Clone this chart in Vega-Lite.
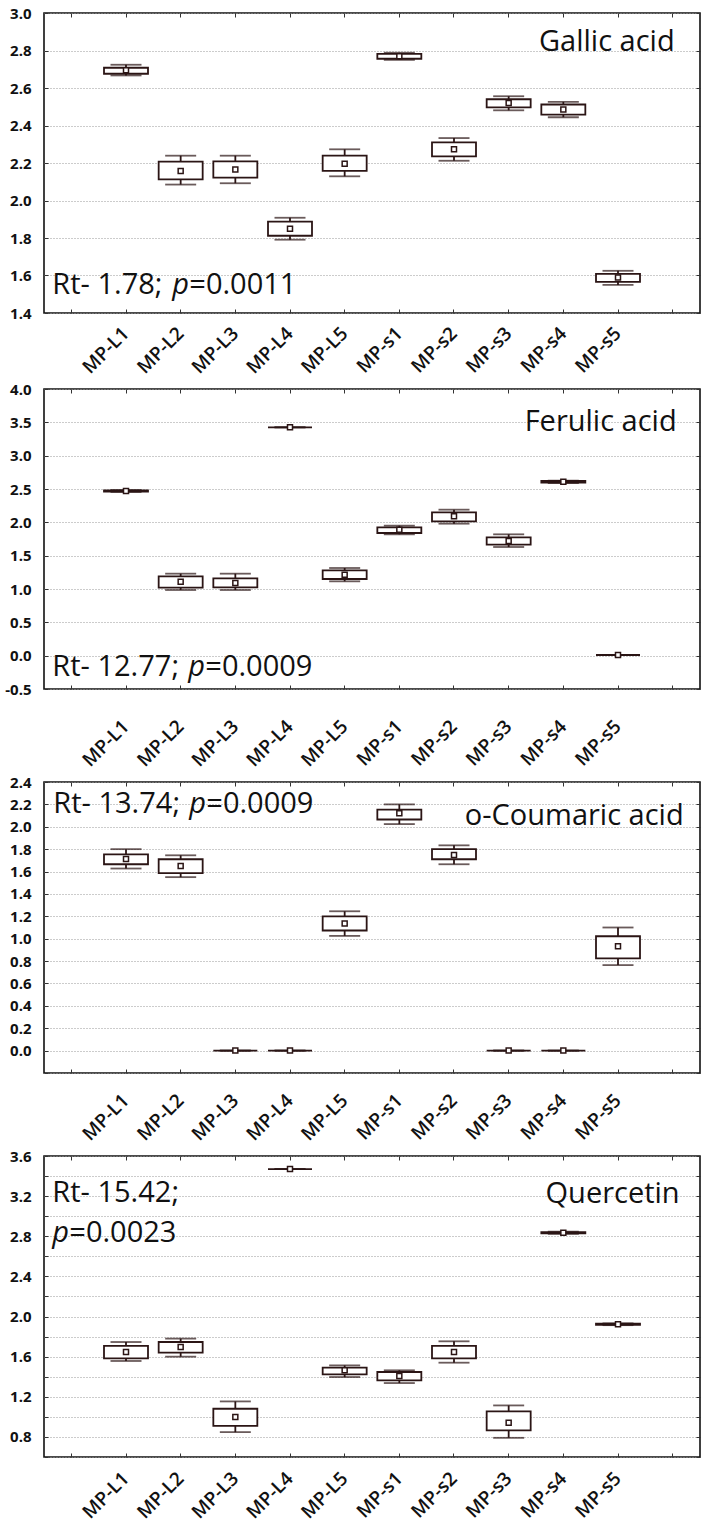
{
  "$schema": "https://vega.github.io/schema/vega-lite/v6.json",
  "padding": {"left": 3, "top": 5, "right": 2, "bottom": 0},
  "background": "white",
  "config": {
    "font": "Open Sans",
    "view": {"stroke": "#111111", "strokeWidth": 1.6},
    "axis": {"domain": false, "title": null, "grid": false, "tickColor": "#333333", "tickWidth": 1, "labelColor": "#111111", "labelFont": "Open Sans"}
  },
  "datasets": {
    "boxes": [
      {"compound": "Gallic acid", "sample": "MP-L1", "mean": 2.695, "box_lo": 2.676, "box_hi": 2.708, "whisker_lo": 2.667, "whisker_hi": 2.724},
      {"compound": "Gallic acid", "sample": "MP-L2", "mean": 2.158, "box_lo": 2.113, "box_hi": 2.207, "whisker_lo": 2.085, "whisker_hi": 2.239},
      {"compound": "Gallic acid", "sample": "MP-L3", "mean": 2.166, "box_lo": 2.122, "box_hi": 2.209, "whisker_lo": 2.092, "whisker_hi": 2.239},
      {"compound": "Gallic acid", "sample": "MP-L4", "mean": 1.850, "box_lo": 1.812, "box_hi": 1.887, "whisker_lo": 1.791, "whisker_hi": 1.908},
      {"compound": "Gallic acid", "sample": "MP-L5", "mean": 2.196, "box_lo": 2.158, "box_hi": 2.239, "whisker_lo": 2.129, "whisker_hi": 2.273},
      {"compound": "Gallic acid", "sample": "MP-s1", "mean": 2.770, "box_lo": 2.756, "box_hi": 2.782, "whisker_lo": 2.750, "whisker_hi": 2.788},
      {"compound": "Gallic acid", "sample": "MP-s2", "mean": 2.274, "box_lo": 2.235, "box_hi": 2.310, "whisker_lo": 2.212, "whisker_hi": 2.333},
      {"compound": "Gallic acid", "sample": "MP-s3", "mean": 2.520, "box_lo": 2.497, "box_hi": 2.540, "whisker_lo": 2.481, "whisker_hi": 2.556},
      {"compound": "Gallic acid", "sample": "MP-s4", "mean": 2.485, "box_lo": 2.458, "box_hi": 2.512, "whisker_lo": 2.444, "whisker_hi": 2.526},
      {"compound": "Gallic acid", "sample": "MP-s5", "mean": 1.589, "box_lo": 1.566, "box_hi": 1.609, "whisker_lo": 1.550, "whisker_hi": 1.625},
      {"compound": "Ferulic acid", "sample": "MP-L1", "mean": 2.47, "box_lo": 2.46, "box_hi": 2.48, "whisker_lo": 2.455, "whisker_hi": 2.485},
      {"compound": "Ferulic acid", "sample": "MP-L2", "mean": 1.11, "box_lo": 1.02, "box_hi": 1.19, "whisker_lo": 0.985, "whisker_hi": 1.23},
      {"compound": "Ferulic acid", "sample": "MP-L3", "mean": 1.09, "box_lo": 1.025, "box_hi": 1.16, "whisker_lo": 0.985, "whisker_hi": 1.23},
      {"compound": "Ferulic acid", "sample": "MP-L4", "mean": 3.425, "box_lo": 3.425, "box_hi": 3.425, "whisker_lo": 3.425, "whisker_hi": 3.425},
      {"compound": "Ferulic acid", "sample": "MP-L5", "mean": 1.215, "box_lo": 1.15, "box_hi": 1.28, "whisker_lo": 1.115, "whisker_hi": 1.315},
      {"compound": "Ferulic acid", "sample": "MP-s1", "mean": 1.89, "box_lo": 1.84, "box_hi": 1.925, "whisker_lo": 1.82, "whisker_hi": 1.95},
      {"compound": "Ferulic acid", "sample": "MP-s2", "mean": 2.09, "box_lo": 2.015, "box_hi": 2.15, "whisker_lo": 1.98, "whisker_hi": 2.19},
      {"compound": "Ferulic acid", "sample": "MP-s3", "mean": 1.72, "box_lo": 1.665, "box_hi": 1.775, "whisker_lo": 1.63, "whisker_hi": 1.82},
      {"compound": "Ferulic acid", "sample": "MP-s4", "mean": 2.61, "box_lo": 2.595, "box_hi": 2.62, "whisker_lo": 2.59, "whisker_hi": 2.625},
      {"compound": "Ferulic acid", "sample": "MP-s5", "mean": 0.01, "box_lo": 0.01, "box_hi": 0.01, "whisker_lo": 0.01, "whisker_hi": 0.01},
      {"compound": "o-Coumaric acid", "sample": "MP-L1", "mean": 1.713, "box_lo": 1.665, "box_hi": 1.754, "whisker_lo": 1.627, "whisker_hi": 1.80},
      {"compound": "o-Coumaric acid", "sample": "MP-L2", "mean": 1.65, "box_lo": 1.585, "box_hi": 1.71, "whisker_lo": 1.55, "whisker_hi": 1.745},
      {"compound": "o-Coumaric acid", "sample": "MP-L3", "mean": 0.0, "box_lo": 0.0, "box_hi": 0.0, "whisker_lo": 0.0, "whisker_hi": 0.0},
      {"compound": "o-Coumaric acid", "sample": "MP-L4", "mean": 0.0, "box_lo": 0.0, "box_hi": 0.0, "whisker_lo": 0.0, "whisker_hi": 0.0},
      {"compound": "o-Coumaric acid", "sample": "MP-L5", "mean": 1.135, "box_lo": 1.073, "box_hi": 1.2, "whisker_lo": 1.025, "whisker_hi": 1.245},
      {"compound": "o-Coumaric acid", "sample": "MP-s1", "mean": 2.12, "box_lo": 2.065, "box_hi": 2.154, "whisker_lo": 2.024, "whisker_hi": 2.2},
      {"compound": "o-Coumaric acid", "sample": "MP-s2", "mean": 1.748, "box_lo": 1.71, "box_hi": 1.80, "whisker_lo": 1.665, "whisker_hi": 1.834},
      {"compound": "o-Coumaric acid", "sample": "MP-s3", "mean": 0.0, "box_lo": 0.0, "box_hi": 0.0, "whisker_lo": 0.0, "whisker_hi": 0.0},
      {"compound": "o-Coumaric acid", "sample": "MP-s4", "mean": 0.0, "box_lo": 0.0, "box_hi": 0.0, "whisker_lo": 0.0, "whisker_hi": 0.0},
      {"compound": "o-Coumaric acid", "sample": "MP-s5", "mean": 0.933, "box_lo": 0.824, "box_hi": 1.022, "whisker_lo": 0.764, "whisker_hi": 1.10},
      {"compound": "Quercetin", "sample": "MP-L1", "mean": 1.647, "box_lo": 1.583, "box_hi": 1.707, "whisker_lo": 1.557, "whisker_hi": 1.746},
      {"compound": "Quercetin", "sample": "MP-L2", "mean": 1.697, "box_lo": 1.64, "box_hi": 1.746, "whisker_lo": 1.60, "whisker_hi": 1.78},
      {"compound": "Quercetin", "sample": "MP-L3", "mean": 0.998, "box_lo": 0.911, "box_hi": 1.081, "whisker_lo": 0.848, "whisker_hi": 1.154},
      {"compound": "Quercetin", "sample": "MP-L4", "mean": 3.47, "box_lo": 3.47, "box_hi": 3.47, "whisker_lo": 3.47, "whisker_hi": 3.47},
      {"compound": "Quercetin", "sample": "MP-L5", "mean": 1.464, "box_lo": 1.424, "box_hi": 1.49, "whisker_lo": 1.397, "whisker_hi": 1.513},
      {"compound": "Quercetin", "sample": "MP-s1", "mean": 1.407, "box_lo": 1.364, "box_hi": 1.447, "whisker_lo": 1.337, "whisker_hi": 1.464},
      {"compound": "Quercetin", "sample": "MP-s2", "mean": 1.647, "box_lo": 1.583, "box_hi": 1.707, "whisker_lo": 1.54, "whisker_hi": 1.753},
      {"compound": "Quercetin", "sample": "MP-s3", "mean": 0.941, "box_lo": 0.865, "box_hi": 1.054, "whisker_lo": 0.791, "whisker_hi": 1.114},
      {"compound": "Quercetin", "sample": "MP-s4", "mean": 2.835, "box_lo": 2.828, "box_hi": 2.842, "whisker_lo": 2.825, "whisker_hi": 2.845},
      {"compound": "Quercetin", "sample": "MP-s5", "mean": 1.923, "box_lo": 1.917, "box_hi": 1.929, "whisker_lo": 1.914, "whisker_hi": 1.932}
    ]
  },
  "data": {"name": "boxes"},
  "spacing": 3,
  "vconcat": [
    {
      "width": 656, "height": 300,
      "transform": [{"filter": "datum.compound === 'Gallic acid'"}],
      "resolve": {"axis": {"x": "independent", "y": "independent"}},
      "layer": [
        {"mark": {"type": "rule", "color": "#2b1515", "strokeWidth": 1.8},
         "encoding": {
           "x": {"field": "sample", "type": "nominal", "scale": {"type": "band", "domain": ["_a","MP-L1","MP-L2","MP-L3","MP-L4","MP-L5","MP-s1","MP-s2","MP-s3","MP-s4","MP-s5","_b"], "paddingInner": 0, "paddingOuter": 0},
                 "axis": {"orient": "bottom", "labelExpr": "indexof(datum.label, '_') === 0 ? '' : datum.label", "labelAngle": -45, "labelAlign": "right", "labelBaseline": "middle", "labelFontWeight": 600, "labelFontSize": 19, "labelPadding": 21, "tickSize": -4}},
           "y": {"field": "whisker_lo", "type": "quantitative", "scale": {"domain": [1.4, 3.0], "nice": false, "zero": false},
                 "axis": {"orient": "left", "values": [1.4,1.6,1.8,2.0,2.2,2.4,2.6,2.8,3.0], "format": ".1f", "labelFontWeight": "bold", "labelFontSize": 15, "labelPadding": 17, "tickSize": -4, "grid": true, "gridColor": "#999999", "gridDash": [1, 2], "gridWidth": 1}},
           "y2": {"field": "whisker_hi"}}},
        {"mark": {"type": "bar", "width": 44, "fill": "white", "stroke": "#2b1515", "strokeWidth": 1.8},
         "encoding": {
           "x": {"field": "sample", "type": "nominal", "scale": {"type": "band", "domain": ["_a","MP-L1","MP-L2","MP-L3","MP-L4","MP-L5","MP-s1","MP-s2","MP-s3","MP-s4","MP-s5","_b"], "paddingInner": 0, "paddingOuter": 0},
                 "axis": {"orient": "top", "labels": false, "tickSize": -4}},
           "y": {"field": "box_lo", "type": "quantitative", "scale": {"domain": [1.4, 3.0], "nice": false, "zero": false},
                 "axis": {"orient": "right", "values": [1.4,1.6,1.8,2.0,2.2,2.4,2.6,2.8,3.0], "labels": false, "tickSize": -4}},
           "y2": {"field": "box_hi"}}},
        {"mark": {"type": "tick", "color": "#2b1515", "size": 31, "thickness": 1.8},
         "encoding": {
           "x": {"field": "sample", "type": "nominal", "scale": {"type": "band", "domain": ["_a","MP-L1","MP-L2","MP-L3","MP-L4","MP-L5","MP-s1","MP-s2","MP-s3","MP-s4","MP-s5","_b"], "paddingInner": 0, "paddingOuter": 0}, "axis": null},
           "y": {"field": "whisker_lo", "type": "quantitative", "scale": {"domain": [1.4, 3.0], "nice": false, "zero": false}, "axis": null}}},
        {"mark": {"type": "tick", "color": "#2b1515", "size": 31, "thickness": 1.8},
         "encoding": {
           "x": {"field": "sample", "type": "nominal", "scale": {"type": "band", "domain": ["_a","MP-L1","MP-L2","MP-L3","MP-L4","MP-L5","MP-s1","MP-s2","MP-s3","MP-s4","MP-s5","_b"], "paddingInner": 0, "paddingOuter": 0}, "axis": null},
           "y": {"field": "whisker_hi", "type": "quantitative", "scale": {"domain": [1.4, 3.0], "nice": false, "zero": false}, "axis": null}}},
        {"mark": {"type": "point", "shape": "square", "size": 25, "filled": true, "fill": "white", "stroke": "#2b1515", "strokeWidth": 1.5, "opacity": 1},
         "encoding": {
           "x": {"field": "sample", "type": "nominal", "scale": {"type": "band", "domain": ["_a","MP-L1","MP-L2","MP-L3","MP-L4","MP-L5","MP-s1","MP-s2","MP-s3","MP-s4","MP-s5","_b"], "paddingInner": 0, "paddingOuter": 0}, "axis": null},
           "y": {"field": "mean", "type": "quantitative", "scale": {"domain": [1.4, 3.0], "nice": false, "zero": false}, "axis": null}}},
        {"data": {"values": [{}]},
         "mark": {"type": "text", "text": "Gallic acid", "fontSize": 29, "align": "right", "baseline": "alphabetic", "color": "#111111", "dx": 2},
         "encoding": {"x": {"datum": "_b", "type": "nominal", "axis": null}, "y": {"datum": 2.8, "type": "quantitative", "axis": null}}},
        {"data": {"values": [{}]},
         "mark": {"type": "text", "text": "Rt- 1.78;", "fontSize": 29, "align": "left", "baseline": "alphabetic", "color": "#111111", "dx": -19},
         "encoding": {"x": {"datum": "_a", "type": "nominal", "axis": null}, "y": {"datum": 1.5, "type": "quantitative", "axis": null}}},
        {"data": {"values": [{}]},
         "mark": {"type": "text", "text": "p", "fontSize": 29, "fontStyle": "italic", "align": "left", "baseline": "alphabetic", "color": "#111111", "dx": 101},
         "encoding": {"x": {"datum": "_a", "type": "nominal", "axis": null}, "y": {"datum": 1.5, "type": "quantitative", "axis": null}}},
        {"data": {"values": [{}]},
         "mark": {"type": "text", "text": "=0.0011", "fontSize": 29, "align": "left", "baseline": "alphabetic", "color": "#111111", "dx": 118},
         "encoding": {"x": {"datum": "_a", "type": "nominal", "axis": null}, "y": {"datum": 1.5, "type": "quantitative", "axis": null}}}
      ]
    },
    {
      "width": 656, "height": 300,
      "transform": [{"filter": "datum.compound === 'Ferulic acid'"}],
      "resolve": {"axis": {"x": "independent", "y": "independent"}},
      "layer": [
        {"mark": {"type": "rule", "color": "#2b1515", "strokeWidth": 1.8},
         "encoding": {
           "x": {"field": "sample", "type": "nominal", "scale": {"type": "band", "domain": ["_a","MP-L1","MP-L2","MP-L3","MP-L4","MP-L5","MP-s1","MP-s2","MP-s3","MP-s4","MP-s5","_b"], "paddingInner": 0, "paddingOuter": 0},
                 "axis": {"orient": "bottom", "labelExpr": "indexof(datum.label, '_') === 0 ? '' : datum.label", "labelAngle": -45, "labelAlign": "right", "labelBaseline": "middle", "labelFontWeight": 600, "labelFontSize": 19, "labelPadding": 38, "tickSize": -4}},
           "y": {"field": "whisker_lo", "type": "quantitative", "scale": {"domain": [-0.5, 4.0], "nice": false, "zero": false},
                 "axis": {"orient": "left", "values": [-0.5,0,0.5,1,1.5,2,2.5,3,3.5,4], "format": ".1f", "labelExpr": "replace(datum.label, '−', '-')", "labelFontWeight": "bold", "labelFontSize": 15, "labelPadding": 17, "tickSize": -4, "grid": true, "gridColor": "#999999", "gridDash": [1, 2], "gridWidth": 1}},
           "y2": {"field": "whisker_hi"}}},
        {"mark": {"type": "bar", "width": 44, "fill": "white", "stroke": "#2b1515", "strokeWidth": 1.8},
         "encoding": {
           "x": {"field": "sample", "type": "nominal", "scale": {"type": "band", "domain": ["_a","MP-L1","MP-L2","MP-L3","MP-L4","MP-L5","MP-s1","MP-s2","MP-s3","MP-s4","MP-s5","_b"], "paddingInner": 0, "paddingOuter": 0},
                 "axis": {"orient": "top", "labels": false, "tickSize": -4}},
           "y": {"field": "box_lo", "type": "quantitative", "scale": {"domain": [-0.5, 4.0], "nice": false, "zero": false},
                 "axis": {"orient": "right", "values": [-0.5,0,0.5,1,1.5,2,2.5,3,3.5,4], "labels": false, "tickSize": -4}},
           "y2": {"field": "box_hi"}}},
        {"mark": {"type": "tick", "color": "#2b1515", "size": 31, "thickness": 1.8},
         "encoding": {
           "x": {"field": "sample", "type": "nominal", "scale": {"type": "band", "domain": ["_a","MP-L1","MP-L2","MP-L3","MP-L4","MP-L5","MP-s1","MP-s2","MP-s3","MP-s4","MP-s5","_b"], "paddingInner": 0, "paddingOuter": 0}, "axis": null},
           "y": {"field": "whisker_lo", "type": "quantitative", "scale": {"domain": [-0.5, 4.0], "nice": false, "zero": false}, "axis": null}}},
        {"mark": {"type": "tick", "color": "#2b1515", "size": 31, "thickness": 1.8},
         "encoding": {
           "x": {"field": "sample", "type": "nominal", "scale": {"type": "band", "domain": ["_a","MP-L1","MP-L2","MP-L3","MP-L4","MP-L5","MP-s1","MP-s2","MP-s3","MP-s4","MP-s5","_b"], "paddingInner": 0, "paddingOuter": 0}, "axis": null},
           "y": {"field": "whisker_hi", "type": "quantitative", "scale": {"domain": [-0.5, 4.0], "nice": false, "zero": false}, "axis": null}}},
        {"mark": {"type": "point", "shape": "square", "size": 25, "filled": true, "fill": "white", "stroke": "#2b1515", "strokeWidth": 1.5, "opacity": 1},
         "encoding": {
           "x": {"field": "sample", "type": "nominal", "scale": {"type": "band", "domain": ["_a","MP-L1","MP-L2","MP-L3","MP-L4","MP-L5","MP-s1","MP-s2","MP-s3","MP-s4","MP-s5","_b"], "paddingInner": 0, "paddingOuter": 0}, "axis": null},
           "y": {"field": "mean", "type": "quantitative", "scale": {"domain": [-0.5, 4.0], "nice": false, "zero": false}, "axis": null}}},
        {"data": {"values": [{}]},
         "mark": {"type": "text", "text": "Ferulic acid", "fontSize": 29, "align": "right", "baseline": "alphabetic", "color": "#111111", "dx": 4},
         "encoding": {"x": {"datum": "_b", "type": "nominal", "axis": null}, "y": {"datum": 3.365, "type": "quantitative", "axis": null}}},
        {"data": {"values": [{}]},
         "mark": {"type": "text", "text": "Rt- 12.77;", "fontSize": 29, "align": "left", "baseline": "alphabetic", "color": "#111111", "dx": -19},
         "encoding": {"x": {"datum": "_a", "type": "nominal", "axis": null}, "y": {"datum": -0.31, "type": "quantitative", "axis": null}}},
        {"data": {"values": [{}]},
         "mark": {"type": "text", "text": "p", "fontSize": 29, "fontStyle": "italic", "align": "left", "baseline": "alphabetic", "color": "#111111", "dx": 117},
         "encoding": {"x": {"datum": "_a", "type": "nominal", "axis": null}, "y": {"datum": -0.31, "type": "quantitative", "axis": null}}},
        {"data": {"values": [{}]},
         "mark": {"type": "text", "text": "=0.0009", "fontSize": 29, "align": "left", "baseline": "alphabetic", "color": "#111111", "dx": 134},
         "encoding": {"x": {"datum": "_a", "type": "nominal", "axis": null}, "y": {"datum": -0.31, "type": "quantitative", "axis": null}}}
      ]
    },
    {
      "width": 656, "height": 291,
      "transform": [{"filter": "datum.compound === 'o-Coumaric acid'"}],
      "resolve": {"axis": {"x": "independent", "y": "independent"}},
      "layer": [
        {"mark": {"type": "rule", "color": "#2b1515", "strokeWidth": 1.8},
         "encoding": {
           "x": {"field": "sample", "type": "nominal", "scale": {"type": "band", "domain": ["_a","MP-L1","MP-L2","MP-L3","MP-L4","MP-L5","MP-s1","MP-s2","MP-s3","MP-s4","MP-s5","_b"], "paddingInner": 0, "paddingOuter": 0},
                 "axis": {"orient": "bottom", "labelExpr": "indexof(datum.label, '_') === 0 ? '' : datum.label", "labelAngle": -45, "labelAlign": "right", "labelBaseline": "middle", "labelFontWeight": 600, "labelFontSize": 19, "labelPadding": 28, "tickSize": -4}},
           "y": {"field": "whisker_lo", "type": "quantitative", "scale": {"domain": [-0.2, 2.4], "nice": false, "zero": false},
                 "axis": {"orient": "left", "values": [-0.2,0,0.2,0.4,0.6,0.8,1,1.2,1.4,1.6,1.8,2,2.2,2.4], "format": ".1f", "labelExpr": "datum.value < 0 ? '' : datum.label", "labelFontWeight": "bold", "labelFontSize": 15, "labelPadding": 17, "tickSize": -4, "grid": true, "gridColor": "#999999", "gridDash": [1, 2], "gridWidth": 1}},
           "y2": {"field": "whisker_hi"}}},
        {"mark": {"type": "bar", "width": 44, "fill": "white", "stroke": "#2b1515", "strokeWidth": 1.8},
         "encoding": {
           "x": {"field": "sample", "type": "nominal", "scale": {"type": "band", "domain": ["_a","MP-L1","MP-L2","MP-L3","MP-L4","MP-L5","MP-s1","MP-s2","MP-s3","MP-s4","MP-s5","_b"], "paddingInner": 0, "paddingOuter": 0},
                 "axis": {"orient": "top", "labels": false, "tickSize": -4}},
           "y": {"field": "box_lo", "type": "quantitative", "scale": {"domain": [-0.2, 2.4], "nice": false, "zero": false},
                 "axis": {"orient": "right", "values": [-0.2,0,0.2,0.4,0.6,0.8,1,1.2,1.4,1.6,1.8,2,2.2,2.4], "labels": false, "tickSize": -4}},
           "y2": {"field": "box_hi"}}},
        {"mark": {"type": "tick", "color": "#2b1515", "size": 31, "thickness": 1.8},
         "encoding": {
           "x": {"field": "sample", "type": "nominal", "scale": {"type": "band", "domain": ["_a","MP-L1","MP-L2","MP-L3","MP-L4","MP-L5","MP-s1","MP-s2","MP-s3","MP-s4","MP-s5","_b"], "paddingInner": 0, "paddingOuter": 0}, "axis": null},
           "y": {"field": "whisker_lo", "type": "quantitative", "scale": {"domain": [-0.2, 2.4], "nice": false, "zero": false}, "axis": null}}},
        {"mark": {"type": "tick", "color": "#2b1515", "size": 31, "thickness": 1.8},
         "encoding": {
           "x": {"field": "sample", "type": "nominal", "scale": {"type": "band", "domain": ["_a","MP-L1","MP-L2","MP-L3","MP-L4","MP-L5","MP-s1","MP-s2","MP-s3","MP-s4","MP-s5","_b"], "paddingInner": 0, "paddingOuter": 0}, "axis": null},
           "y": {"field": "whisker_hi", "type": "quantitative", "scale": {"domain": [-0.2, 2.4], "nice": false, "zero": false}, "axis": null}}},
        {"mark": {"type": "point", "shape": "square", "size": 25, "filled": true, "fill": "white", "stroke": "#2b1515", "strokeWidth": 1.5, "opacity": 1},
         "encoding": {
           "x": {"field": "sample", "type": "nominal", "scale": {"type": "band", "domain": ["_a","MP-L1","MP-L2","MP-L3","MP-L4","MP-L5","MP-s1","MP-s2","MP-s3","MP-s4","MP-s5","_b"], "paddingInner": 0, "paddingOuter": 0}, "axis": null},
           "y": {"field": "mean", "type": "quantitative", "scale": {"domain": [-0.2, 2.4], "nice": false, "zero": false}, "axis": null}}},
        {"data": {"values": [{}]},
         "mark": {"type": "text", "text": "o-Coumaric acid", "fontSize": 29, "align": "right", "baseline": "alphabetic", "color": "#111111", "dx": 11},
         "encoding": {"x": {"datum": "_b", "type": "nominal", "axis": null}, "y": {"datum": 2.02, "type": "quantitative", "axis": null}}},
        {"data": {"values": [{}]},
         "mark": {"type": "text", "text": "Rt- 13.74;", "fontSize": 29, "align": "left", "baseline": "alphabetic", "color": "#111111", "dx": -18},
         "encoding": {"x": {"datum": "_a", "type": "nominal", "axis": null}, "y": {"datum": 2.12, "type": "quantitative", "axis": null}}},
        {"data": {"values": [{}]},
         "mark": {"type": "text", "text": "p", "fontSize": 29, "fontStyle": "italic", "align": "left", "baseline": "alphabetic", "color": "#111111", "dx": 118},
         "encoding": {"x": {"datum": "_a", "type": "nominal", "axis": null}, "y": {"datum": 2.12, "type": "quantitative", "axis": null}}},
        {"data": {"values": [{}]},
         "mark": {"type": "text", "text": "=0.0009", "fontSize": 29, "align": "left", "baseline": "alphabetic", "color": "#111111", "dx": 135},
         "encoding": {"x": {"datum": "_a", "type": "nominal", "axis": null}, "y": {"datum": 2.12, "type": "quantitative", "axis": null}}}
      ]
    },
    {
      "width": 656, "height": 301,
      "transform": [{"filter": "datum.compound === 'Quercetin'"}],
      "resolve": {"axis": {"x": "independent", "y": "independent"}},
      "layer": [
        {"mark": {"type": "rule", "color": "#2b1515", "strokeWidth": 1.8},
         "encoding": {
           "x": {"field": "sample", "type": "nominal", "scale": {"type": "band", "domain": ["_a","MP-L1","MP-L2","MP-L3","MP-L4","MP-L5","MP-s1","MP-s2","MP-s3","MP-s4","MP-s5","_b"], "paddingInner": 0, "paddingOuter": 0},
                 "axis": {"orient": "bottom", "labelExpr": "indexof(datum.label, '_') === 0 ? '' : datum.label", "labelAngle": -45, "labelAlign": "right", "labelBaseline": "middle", "labelFontWeight": 600, "labelFontSize": 19, "labelPadding": 22, "tickSize": -4}},
           "y": {"field": "whisker_lo", "type": "quantitative", "scale": {"domain": [0.6, 3.6], "nice": false, "zero": false},
                 "axis": {"orient": "left", "values": [0.6,0.8,1,1.2,1.4,1.6,1.8,2,2.2,2.4,2.6,2.8,3,3.2,3.4,3.6], "format": ".1f", "labelExpr": "round(datum.value * 10) % 4 === 0 ? datum.label : ''", "labelFontWeight": "bold", "labelFontSize": 15, "labelPadding": 17, "tickSize": -4, "grid": true, "gridColor": "#999999", "gridDash": [1, 2], "gridWidth": 1}},
           "y2": {"field": "whisker_hi"}}},
        {"mark": {"type": "bar", "width": 44, "fill": "white", "stroke": "#2b1515", "strokeWidth": 1.8},
         "encoding": {
           "x": {"field": "sample", "type": "nominal", "scale": {"type": "band", "domain": ["_a","MP-L1","MP-L2","MP-L3","MP-L4","MP-L5","MP-s1","MP-s2","MP-s3","MP-s4","MP-s5","_b"], "paddingInner": 0, "paddingOuter": 0},
                 "axis": {"orient": "top", "labels": false, "tickSize": -4}},
           "y": {"field": "box_lo", "type": "quantitative", "scale": {"domain": [0.6, 3.6], "nice": false, "zero": false},
                 "axis": {"orient": "right", "values": [0.6,0.8,1,1.2,1.4,1.6,1.8,2,2.2,2.4,2.6,2.8,3,3.2,3.4,3.6], "labels": false, "tickSize": -4}},
           "y2": {"field": "box_hi"}}},
        {"mark": {"type": "tick", "color": "#2b1515", "size": 31, "thickness": 1.8},
         "encoding": {
           "x": {"field": "sample", "type": "nominal", "scale": {"type": "band", "domain": ["_a","MP-L1","MP-L2","MP-L3","MP-L4","MP-L5","MP-s1","MP-s2","MP-s3","MP-s4","MP-s5","_b"], "paddingInner": 0, "paddingOuter": 0}, "axis": null},
           "y": {"field": "whisker_lo", "type": "quantitative", "scale": {"domain": [0.6, 3.6], "nice": false, "zero": false}, "axis": null}}},
        {"mark": {"type": "tick", "color": "#2b1515", "size": 31, "thickness": 1.8},
         "encoding": {
           "x": {"field": "sample", "type": "nominal", "scale": {"type": "band", "domain": ["_a","MP-L1","MP-L2","MP-L3","MP-L4","MP-L5","MP-s1","MP-s2","MP-s3","MP-s4","MP-s5","_b"], "paddingInner": 0, "paddingOuter": 0}, "axis": null},
           "y": {"field": "whisker_hi", "type": "quantitative", "scale": {"domain": [0.6, 3.6], "nice": false, "zero": false}, "axis": null}}},
        {"mark": {"type": "point", "shape": "square", "size": 25, "filled": true, "fill": "white", "stroke": "#2b1515", "strokeWidth": 1.5, "opacity": 1},
         "encoding": {
           "x": {"field": "sample", "type": "nominal", "scale": {"type": "band", "domain": ["_a","MP-L1","MP-L2","MP-L3","MP-L4","MP-L5","MP-s1","MP-s2","MP-s3","MP-s4","MP-s5","_b"], "paddingInner": 0, "paddingOuter": 0}, "axis": null},
           "y": {"field": "mean", "type": "quantitative", "scale": {"domain": [0.6, 3.6], "nice": false, "zero": false}, "axis": null}}},
        {"data": {"values": [{}]},
         "mark": {"type": "text", "text": "Quercetin", "fontSize": 29, "align": "right", "baseline": "alphabetic", "color": "#111111", "dx": 7},
         "encoding": {"x": {"datum": "_b", "type": "nominal", "axis": null}, "y": {"datum": 3.127, "type": "quantitative", "axis": null}}},
        {"data": {"values": [{}]},
         "mark": {"type": "text", "text": "Rt- 15.42;", "fontSize": 29, "align": "left", "baseline": "alphabetic", "color": "#111111", "dx": -19},
         "encoding": {"x": {"datum": "_a", "type": "nominal", "axis": null}, "y": {"datum": 3.144, "type": "quantitative", "axis": null}}},
        {"data": {"values": [{}]},
         "mark": {"type": "text", "text": "p", "fontSize": 29, "fontStyle": "italic", "align": "left", "baseline": "alphabetic", "color": "#111111", "dx": -19},
         "encoding": {"x": {"datum": "_a", "type": "nominal", "axis": null}, "y": {"datum": 2.745, "type": "quantitative", "axis": null}}},
        {"data": {"values": [{}]},
         "mark": {"type": "text", "text": "=0.0023", "fontSize": 29, "align": "left", "baseline": "alphabetic", "color": "#111111", "dx": -2},
         "encoding": {"x": {"datum": "_a", "type": "nominal", "axis": null}, "y": {"datum": 2.745, "type": "quantitative", "axis": null}}}
      ]
    }
  ]
}
